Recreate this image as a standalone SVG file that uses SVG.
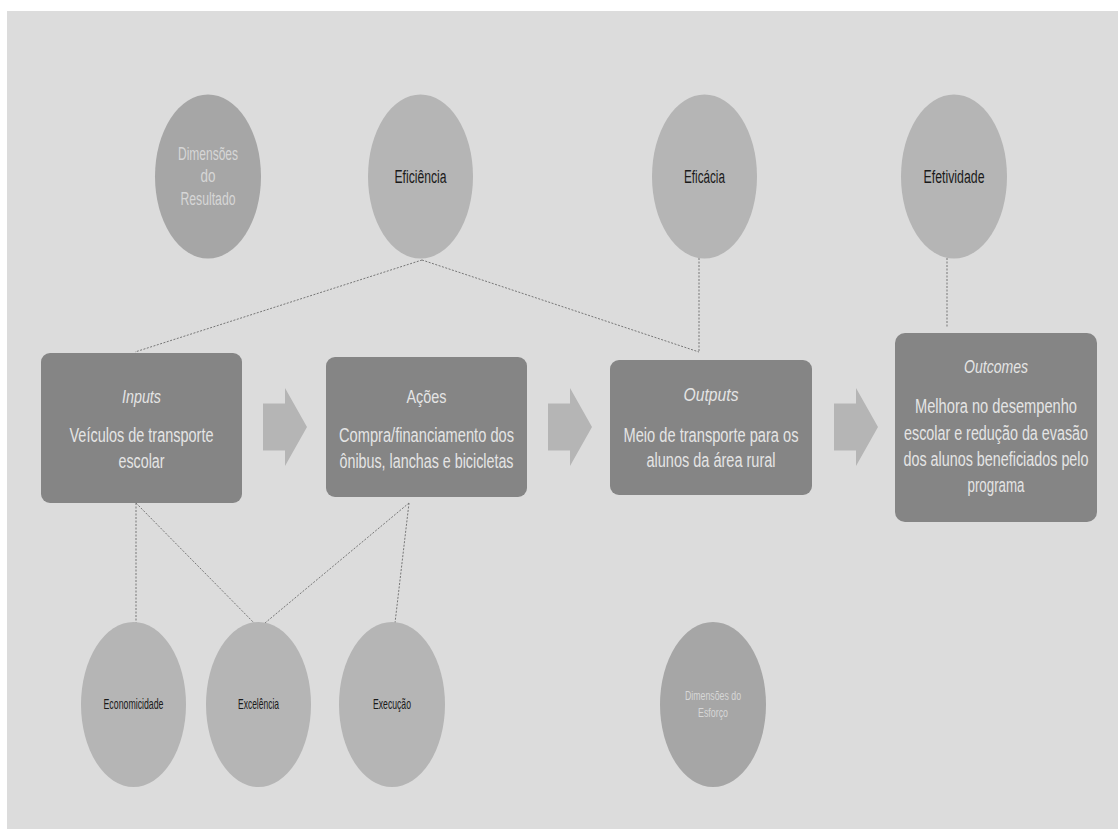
<svg xmlns="http://www.w3.org/2000/svg" width="1118" height="829" viewBox="0 0 1118 829">
<defs>
<style>
.bg{fill:#dcdcdc}
.ell{fill:#b5b5b5}
.ellD{fill:#a6a6a6}
.box{fill:#858585}
.arr{fill:#b5b5b5}
.con line{stroke:#777777;stroke-width:1;stroke-dasharray:2 1.5;fill:none}
text{font-family:"Liberation Sans",Arial,sans-serif;text-anchor:middle}
.et{fill:#1a1a1a;font-size:19px}
.es{fill:#1a1a1a;font-size:14px}
.dt{fill:#d6d6d6;font-size:19px}
.ds{fill:#d6d6d6;font-size:13px}
.bt{fill:#e4e4e4;font-size:19px}
.bb{fill:#e4e4e4;font-size:21px}
.it{font-style:italic}
</style>
</defs>
<rect x="0" y="0" width="1118" height="829" fill="#ffffff"/>
<rect class="bg" x="7" y="11" width="1111" height="818"/>

<g id="connectors" class="con">
<line x1="422" y1="260" x2="135" y2="352"/>
<line x1="422" y1="260" x2="699" y2="352"/>
<line x1="699" y1="258" x2="699" y2="352"/>
<line x1="947" y1="258" x2="947" y2="328"/>
<line x1="136" y1="503" x2="136" y2="627"/>
<line x1="136" y1="503" x2="259" y2="628"/>
<line x1="409" y1="503" x2="259" y2="628"/>
<line x1="409" y1="503" x2="395" y2="623"/>
</g>

<g id="dim-resultado">
<ellipse class="ellD" cx="208" cy="176.5" rx="53" ry="82"/>
<g transform="translate(208 0) scale(0.65 1)">
<text class="dt" x="0" y="160" textLength="92.3" lengthAdjust="spacingAndGlyphs">Dimensões</text>
<text class="dt" x="0" y="182" textLength="23" lengthAdjust="spacingAndGlyphs">do</text>
<text class="dt" x="0" y="205" textLength="84.6" lengthAdjust="spacingAndGlyphs">Resultado</text>
</g>
</g>
<g id="eficiencia">
<ellipse class="ell" cx="420.5" cy="176.5" rx="52.5" ry="82"/>
<g transform="translate(420.5 0) scale(0.65 1)"><text class="et" x="0" y="183" textLength="80" lengthAdjust="spacingAndGlyphs">Eficiência</text></g>
</g>
<g id="eficacia">
<ellipse class="ell" cx="704.5" cy="176.5" rx="52.5" ry="82"/>
<g transform="translate(704.5 0) scale(0.65 1)"><text class="et" x="0" y="183" textLength="63" lengthAdjust="spacingAndGlyphs">Eficácia</text></g>
</g>
<g id="efetividade">
<ellipse class="ell" cx="954" cy="176.5" rx="53" ry="82"/>
<g transform="translate(954 0) scale(0.65 1)"><text class="et" x="0" y="183" textLength="93.8" lengthAdjust="spacingAndGlyphs">Efetividade</text></g>
</g>

<g id="inputs">
<rect class="box" x="41" y="353" width="201" height="150" rx="9"/>
<g transform="translate(141.5 0) scale(0.74 1)"><text class="bt it" x="0" y="403" textLength="52.7" lengthAdjust="spacingAndGlyphs">Inputs</text></g>
<g transform="translate(141.5 0) scale(0.69 1)">
<text class="bb" x="0" y="442" textLength="208.7" lengthAdjust="spacingAndGlyphs">Veículos de transporte</text>
<text class="bb" x="0" y="468" textLength="66.7" lengthAdjust="spacingAndGlyphs">escolar</text>
</g>
</g>
<g id="arrow1"><polygon class="arr" points="263,403.5 285,403.5 285,388 307,427 285,466 285,450.5 263,450.5"/></g>
<g id="acoes">
<rect class="box" x="326" y="357" width="201" height="140" rx="9"/>
<g transform="translate(426.5 0) scale(0.74 1)"><text class="bt" x="0" y="403" textLength="54" lengthAdjust="spacingAndGlyphs">Ações</text></g>
<g transform="translate(426.5 0) scale(0.69 1)">
<text class="bb" x="0" y="442" textLength="253.6" lengthAdjust="spacingAndGlyphs">Compra/financiamento dos</text>
<text class="bb" x="0" y="468" textLength="252.2" lengthAdjust="spacingAndGlyphs">ônibus, lanchas e bicicletas</text>
</g>
</g>
<g id="arrow2"><polygon class="arr" points="548,403.5 570,403.5 570,388 592,427 570,466 570,450.5 548,450.5"/></g>
<g id="outputs">
<rect class="box" x="610" y="360" width="202" height="135" rx="9"/>
<g transform="translate(711 0) scale(0.74 1)"><text class="bt it" x="0" y="401" textLength="74.3" lengthAdjust="spacingAndGlyphs">Outputs</text></g>
<g transform="translate(711 0) scale(0.69 1)">
<text class="bb" x="0" y="442" textLength="253.6" lengthAdjust="spacingAndGlyphs">Meio de transporte para os</text>
<text class="bb" x="0" y="467" textLength="187" lengthAdjust="spacingAndGlyphs">alunos da área rural</text>
</g>
</g>
<g id="arrow3"><polygon class="arr" points="834,403.5 856,403.5 856,388 878,427 856,466 856,450.5 834,450.5"/></g>
<g id="outcomes">
<rect class="box" x="895" y="333" width="202" height="189" rx="10"/>
<g transform="translate(996 0) scale(0.74 1)"><text class="bt it" x="0" y="373" textLength="86.5" lengthAdjust="spacingAndGlyphs">Outcomes</text></g>
<g transform="translate(996 0) scale(0.69 1)">
<text class="bb" x="0" y="413" textLength="234.8" lengthAdjust="spacingAndGlyphs">Melhora no desempenho</text>
<text class="bb" x="0" y="440" textLength="266.7" lengthAdjust="spacingAndGlyphs">escolar e redução da evasão</text>
<text class="bb" x="0" y="466" textLength="268.1" lengthAdjust="spacingAndGlyphs">dos alunos beneficiados pelo</text>
<text class="bb" x="0" y="492" textLength="82.6" lengthAdjust="spacingAndGlyphs">programa</text>
</g>
</g>

<g id="economicidade">
<ellipse class="ell" cx="133.5" cy="704.5" rx="52.5" ry="82.5"/>
<g transform="translate(133.5 0) scale(0.58 1)"><text class="es" x="0" y="709" textLength="103.4" lengthAdjust="spacingAndGlyphs">Economicidade</text></g>
</g>
<g id="excelencia">
<ellipse class="ell" cx="258.5" cy="704.5" rx="52.5" ry="82.5"/>
<g transform="translate(258.5 0) scale(0.58 1)"><text class="es" x="0" y="709" textLength="70.7" lengthAdjust="spacingAndGlyphs">Excelência</text></g>
</g>
<g id="execucao">
<ellipse class="ell" cx="392" cy="704.5" rx="53" ry="82.5"/>
<g transform="translate(392 0) scale(0.58 1)"><text class="es" x="0" y="709" textLength="65.5" lengthAdjust="spacingAndGlyphs">Execução</text></g>
</g>
<g id="dim-esforco">
<ellipse class="ellD" cx="713" cy="704.5" rx="53" ry="82.5"/>
<g transform="translate(713 0) scale(0.67 1)">
<text class="ds" x="0" y="700" textLength="83.6" lengthAdjust="spacingAndGlyphs">Dimensões do</text>
<text class="ds" x="0" y="717" textLength="44.8" lengthAdjust="spacingAndGlyphs">Esforço</text>
</g>
</g>
</svg>
